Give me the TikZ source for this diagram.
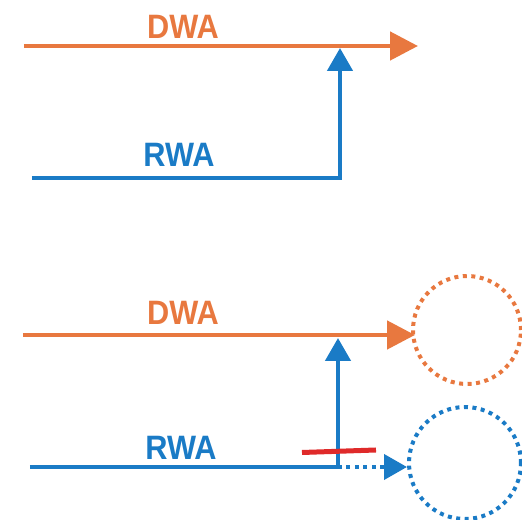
\documentclass[tikz,border=0pt]{standalone}
\usepackage{fontspec}
\setmainfont{Liberation Sans}
\usetikzlibrary{arrows.meta}
\definecolor{dwaorange}{HTML}{E8783F}
\definecolor{rwablue}{HTML}{1A7BC6}
\definecolor{cutred}{HTML}{DF2A2A}
\tikzset{
  dwaline/.style={draw=dwaorange, line width=0.095cm, -{Triangle[length=0.56cm, width=0.56cm]}},
  rwaline/.style={draw=rwablue, line width=0.09cm, -{Triangle[length=0.46cm, width=0.5cm]}},
  dotline/.style={line width=0.08cm, dash pattern=on 0.08cm off 0.09cm},
  walabel/.style={font=\fontsize{17.5}{20}\selectfont\bfseries, inner sep=0pt, yscale=1.1},
}
\begin{document}
\begin{tikzpicture}[x=0.02cm, y=-0.02cm]
			%%%%% START %%%%%
			\useasboundingbox (0,0) rectangle (522,520);
			\clip (0,0) rectangle (522,520);
			
			% upper case
			\coordinate (dwaUpS) at (24,46);
			\coordinate (dwaUpE) at (418,46);
			\draw[dwaline, color=dwaorange] (dwaUpS) -- (dwaUpE);
			\node[walabel, text=dwaorange] (dwaUp) at (183,27) {DWA};
			
			\coordinate (rwaUpS) at (32,178);
			\coordinate (rwaUpK) at (340,178);
			\coordinate (rwaUpE) at (340,48);
			\draw[rwaline, color=rwablue] (rwaUpS) -- (rwaUpK) -- (rwaUpE);
			\node[walabel, text=rwablue] (rwaUp) at (179,155) {RWA};
			
			% lower case
			\coordinate (dwaLoS) at (23,335);
			\coordinate (dwaLoE) at (415,335);
			\draw[dwaline, color=dwaorange] (dwaLoS) -- (dwaLoE);
			\node[walabel, text=dwaorange] (dwaLo) at (183,313) {DWA};
			\node[circle, draw=dwaorange, dotline, minimum size=2.16cm, inner sep=0pt] (dwaGoal) at (467,330) {};
			
			\coordinate (rwaLoS) at (30,467);
			\coordinate (rwaLoK) at (338,467);
			\coordinate (rwaLoE) at (338,338);
			\draw[rwaline, color=rwablue] (rwaLoS) -- (rwaLoK) -- (rwaLoE);
			\node[walabel, text=rwablue] (rwaLo) at (181,448) {RWA};
			\node[circle, draw=rwablue, dotline, minimum size=2.24cm, inner sep=0pt] (rwaGoal) at (465,463) {};
			\draw[rwaline, color=rwablue, dotline] (rwaLoK) -- (rwaGoal.west |- rwaLoK);
			
			\coordinate (cutS) at (302,452.5);
			\coordinate (cutE) at (376,450);
			\draw[cutred, line width=0.1cm] (cutS) -- (cutE);
			%%%%% END %%%%%
\end{tikzpicture}
\end{document}
